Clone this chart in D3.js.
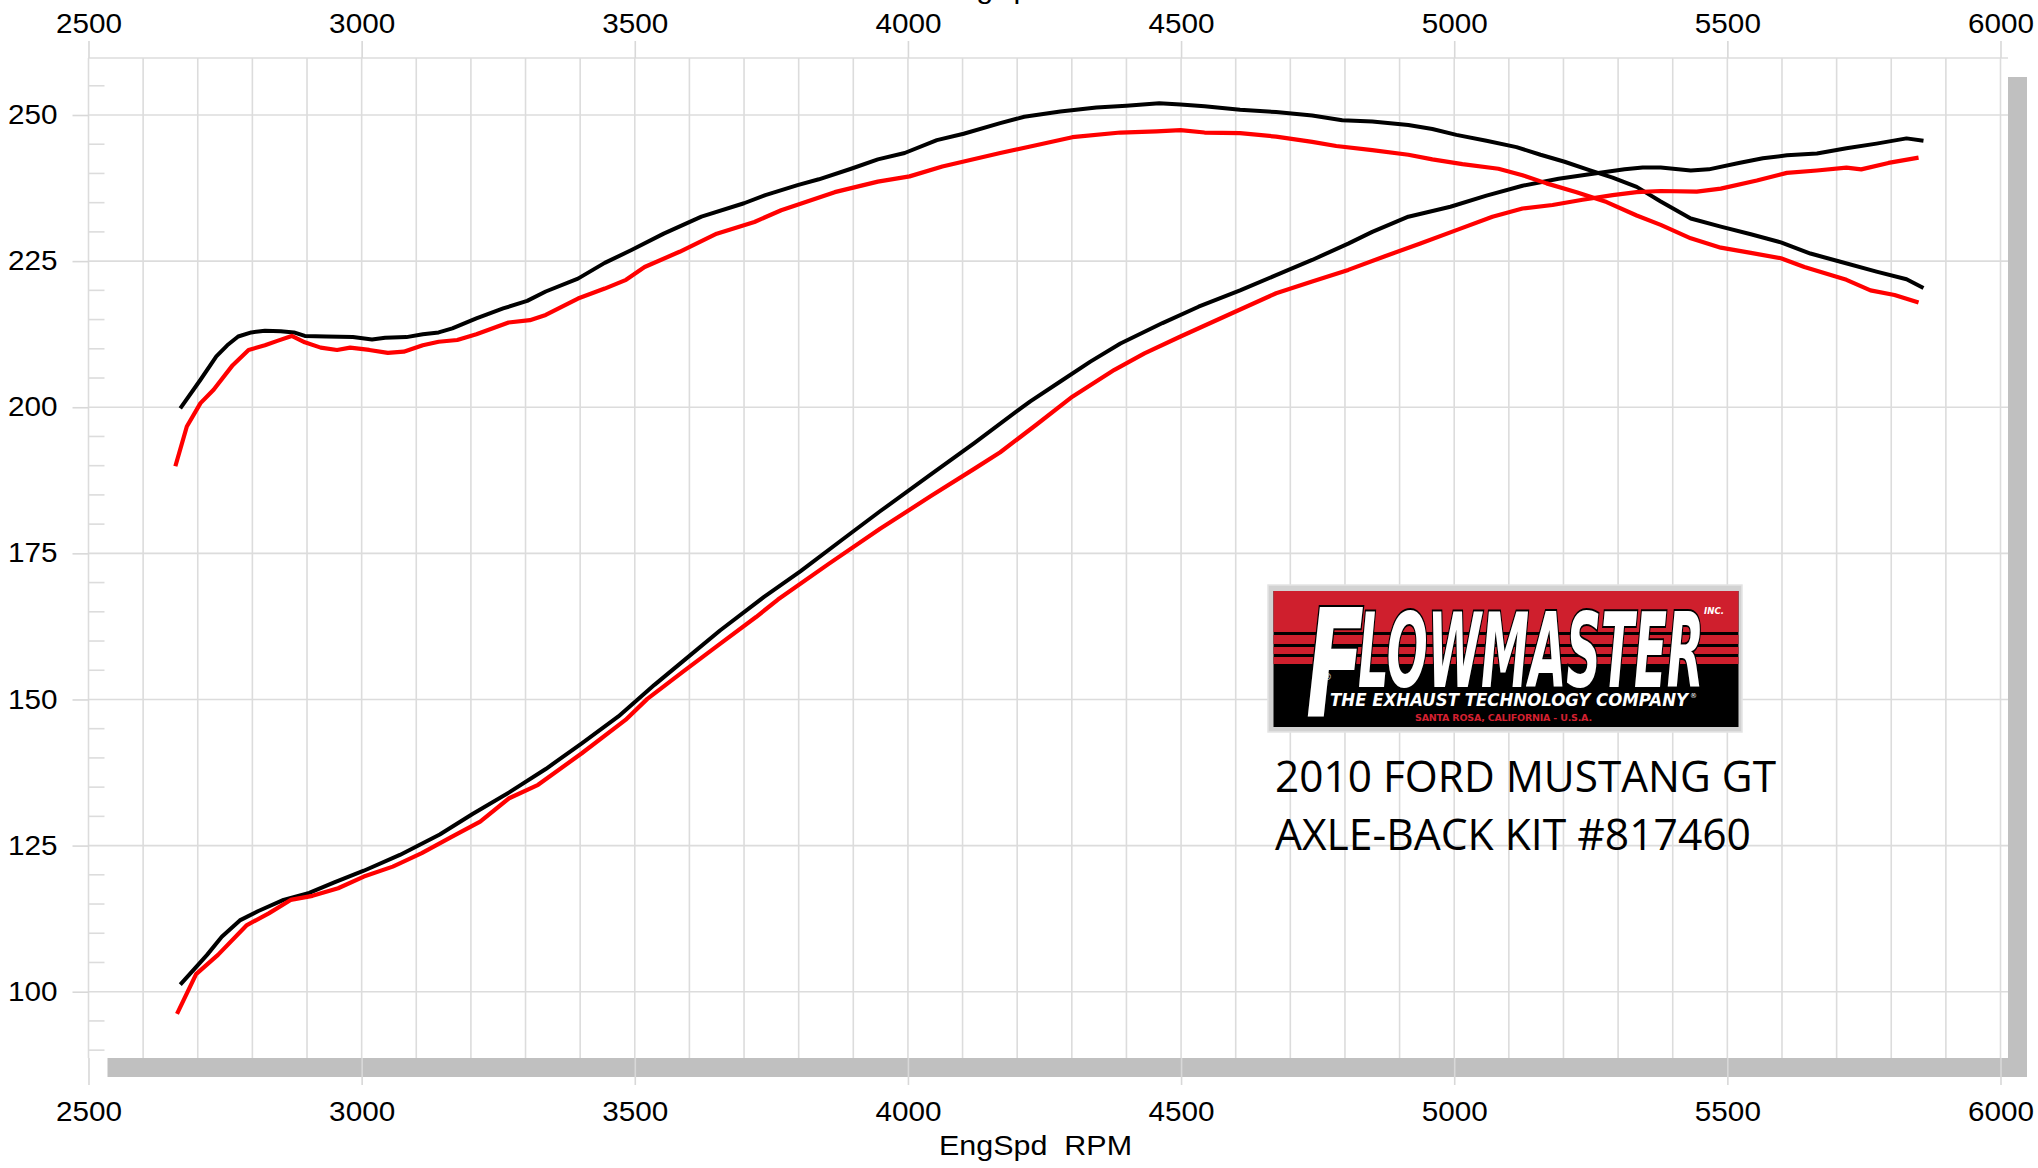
<!DOCTYPE html>
<html>
<head>
<meta charset="UTF-8">
<title>2010 Ford Mustang GT - Axle-Back Kit #817460</title>
<script src="https://cdn.jsdelivr.net/npm/d3@7/dist/d3.min.js"></script>
<style>
    body { margin: 0; background: #fff; }
    svg { display: block; }
    .axis text { font-family: "Liberation Sans", Arial, sans-serif; font-size: 27px; fill: #000; }
    .axis line { stroke: #d8d8d8; stroke-width: 1.6; }
    .grid line { stroke: #dcdcdc; stroke-width: 1.6; }
</style>
</head>
<body>
<svg id="chart" width="2038" height="1168"></svg>
<script>

    // Dyno curves. Upper pair = torque, lower pair = power.
    // black = with the axle-back kit, red = stock
    var tqKitRpm = [2668, 2705, 2734, 2754, 2774, 2798, 2823, 2852, 2876, 2896, 2935, 2984, 3019, 3043, 3082, 3112, 3141, 3166, 3210, 3259, 3303, 3337, 3396, 3445, 3494, 3553, 3622, 3700, 3739, 3798, 3837, 3896, 3945, 3994, 4053, 4102, 4169, 4213, 4279, 4345, 4400, 4460, 4499, 4543, 4608, 4674, 4740, 4795, 4850, 4916, 4960, 5004, 5059, 5114, 5158, 5202, 5246, 5290, 5334, 5378, 5433, 5488, 5543, 5598, 5652, 5707, 5773, 5828, 5859];
    var tqKit = [199.8, 204.7, 208.7, 210.6, 212.1, 212.8, 213.1, 213.0, 212.8, 212.2, 212.1, 212.0, 211.6, 211.9, 212.0, 212.5, 212.8, 213.5, 215.2, 216.9, 218.2, 219.8, 222.0, 224.7, 226.9, 229.7, 232.6, 234.9, 236.3, 238.0, 239.0, 240.8, 242.4, 243.5, 245.7, 246.8, 248.6, 249.7, 250.6, 251.3, 251.6, 252.0, 251.8, 251.5, 250.9, 250.5, 249.9, 249.1, 248.9, 248.3, 247.6, 246.6, 245.6, 244.5, 243.2, 242.0, 240.6, 239.3, 237.7, 235.2, 232.3, 230.9, 229.6, 228.2, 226.3, 224.9, 223.2, 221.9, 220.4];

    var tqStockRpm = [2659, 2680, 2705, 2729, 2764, 2793, 2823, 2847, 2872, 2896, 2925, 2955, 2979, 3014, 3048, 3077, 3112, 3141, 3175, 3210, 3269, 3308, 3337, 3396, 3445, 3484, 3518, 3582, 3650, 3719, 3768, 3866, 3945, 4003, 4063, 4169, 4224, 4301, 4389, 4455, 4499, 4543, 4608, 4674, 4740, 4784, 4850, 4916, 4960, 5015, 5081, 5125, 5169, 5224, 5279, 5334, 5378, 5433, 5488, 5543, 5598, 5641, 5718, 5762, 5806, 5850];
    var tqStock = [189.9, 196.7, 200.7, 203.0, 207.2, 209.8, 210.6, 211.4, 212.2, 211.1, 210.2, 209.8, 210.2, 209.8, 209.3, 209.5, 210.6, 211.2, 211.5, 212.5, 214.5, 214.9, 215.8, 218.6, 220.3, 221.8, 224.0, 226.6, 229.7, 231.7, 233.7, 236.8, 238.6, 239.5, 241.2, 243.5, 244.6, 246.2, 247.0, 247.2, 247.4, 247.0, 246.9, 246.3, 245.4, 244.7, 244.0, 243.2, 242.4, 241.6, 240.8, 239.7, 238.3, 236.8, 235.1, 232.8, 231.2, 228.9, 227.3, 226.4, 225.5, 224.0, 221.8, 220.0, 219.2, 217.9];

    var hpKitRpm = [2668, 2717, 2744, 2777, 2811, 2857, 2904, 2950, 3004, 3070, 3143, 3203, 3270, 3337, 3403, 3470, 3536, 3589, 3656, 3736, 3803, 3882, 3949, 4042, 4122, 4202, 4224, 4279, 4334, 4389, 4466, 4532, 4608, 4674, 4740, 4806, 4850, 4916, 4993, 5059, 5125, 5191, 5257, 5312, 5345, 5378, 5433, 5466, 5521, 5565, 5609, 5664, 5718, 5773, 5828, 5859];
    var hpKit = [101.2, 106.3, 109.4, 112.2, 113.8, 115.7, 116.9, 118.7, 120.7, 123.4, 126.9, 130.4, 134.1, 138.1, 142.5, 147.1, 152.5, 156.6, 161.8, 167.5, 171.9, 177.5, 182.2, 188.5, 193.9, 199.5, 201.0, 204.4, 207.8, 210.9, 214.4, 217.2, 220.0, 222.6, 225.2, 228.0, 230.0, 232.6, 234.3, 236.2, 237.9, 239.1, 240.0, 240.7, 241.0, 241.0, 240.5, 240.7, 241.8, 242.6, 243.1, 243.4, 244.3, 245.1, 246.0, 245.6];

    var hpStockRpm = [2662, 2697, 2737, 2790, 2830, 2870, 2910, 2957, 3004, 3057, 3110, 3163, 3217, 3270, 3323, 3403, 3483, 3523, 3589, 3656, 3722, 3762, 3855, 3949, 4042, 4122, 4169, 4235, 4301, 4378, 4433, 4499, 4598, 4674, 4740, 4806, 4872, 4938, 5004, 5070, 5125, 5180, 5235, 5290, 5334, 5378, 5444, 5488, 5554, 5609, 5664, 5718, 5745, 5795, 5850];
    var hpStock = [96.2, 103.0, 106.3, 111.4, 113.4, 115.7, 116.4, 117.7, 119.7, 121.4, 123.7, 126.4, 129.1, 133.1, 135.4, 140.8, 146.5, 150.1, 154.8, 159.5, 164.1, 167.1, 173.2, 179.2, 184.8, 189.5, 192.3, 197.0, 201.8, 206.4, 209.2, 212.1, 216.3, 219.5, 221.5, 223.5, 225.8, 228.0, 230.3, 232.6, 234.0, 234.6, 235.5, 236.3, 236.8, 237.0, 236.9, 237.4, 238.8, 240.1, 240.5, 241.0, 240.7, 241.8, 242.7];

    var rpmTicks = [2500, 3000, 3500, 4000, 4500, 5000, 5500, 6000];
    var valueTicks = [100, 125, 150, 175, 200, 225, 250];
    var axisTitle = "EngSpd  RPM";
    var noteLines = ["2010 FORD MUSTANG GT", "AXLE-BACK KIT #817460"];

    var svg = d3.select("#chart");

    // plot frame (pixels); "top" is taken by window.top, so prefix them
    var pLeft = 88.5, pTop = 58, pRight = 2008, pBottom = 1058;
    var shadow = 19;

    var x = d3.scaleLinear().domain([2500, 6000]).range([88.5, 2000.5]);
    var y = d3.scaleLinear().domain([100, 250]).range([991.7, 115]);

    // drop shadow + white plot area
    svg.append("rect")
        .attr("x", pLeft + shadow).attr("y", pTop + shadow)
        .attr("width", pRight - pLeft).attr("height", pBottom - pTop)
        .attr("fill", "#c0c0c0");
    svg.append("rect")
        .attr("x", pLeft).attr("y", pTop)
        .attr("width", pRight - pLeft).attr("height", pBottom - pTop)
        .attr("fill", "#fff");

    // grid
    var grid = svg.append("g").attr("class", "grid");
    grid.selectAll(".v").data(d3.range(2500, 6001, 100)).enter().append("line")
        .attr("x1", function (d) { return x(d); }).attr("x2", function (d) { return x(d); })
        .attr("y1", pTop).attr("y2", pBottom);
    grid.selectAll(".h").data(valueTicks).enter().append("line")
        .attr("x1", pLeft).attr("x2", pRight)
        .attr("y1", function (d) { return y(d); }).attr("y2", function (d) { return y(d); });
    grid.append("line").attr("x1", pLeft).attr("x2", pRight).attr("y1", pTop).attr("y2", pTop);

    // minor ticks on the left edge, every 5
    var minor = d3.range(90, 260, 5).filter(function (v) { return v % 25 !== 0; });
    grid.selectAll(".m").data(minor).enter().append("line")
        .attr("x1", pLeft).attr("x2", pLeft + 16)
        .attr("y1", function (d) { return y(d); }).attr("y2", function (d) { return y(d); });

    // axes
    var fmt = d3.format("d");
    svg.append("g").attr("class", "axis")
        .attr("transform", "translate(0," + pTop + ")")
        .call(d3.axisTop(x).tickValues(rpmTicks).tickSize(17).tickPadding(8).tickFormat(fmt));
    svg.append("g").attr("class", "axis")
        .attr("transform", "translate(0," + pBottom + ")")
        .call(d3.axisBottom(x).tickValues(rpmTicks).tickSize(27).tickPadding(17).tickFormat(fmt));
    svg.append("g").attr("class", "axis")
        .attr("transform", "translate(" + pLeft + ",0)")
        .call(d3.axisLeft(y).tickValues(valueTicks).tickSize(16).tickPadding(15).tickFormat(fmt));
    svg.selectAll(".axis .domain").remove();

    // the sheet's numbers are a bit wider than Arial
    svg.selectAll(".axis text").each(function () {
        var w = this.getComputedTextLength();
        d3.select(this).attr("textLength", w * 1.1).attr("lengthAdjust", "spacingAndGlyphs");
    });

    // axis titles (the top one is cut off by the page edge)
    [-2, 1155].forEach(function (by) {
        svg.append("text")
            .attr("x", 939).attr("y", by)
            .attr("textLength", 193).attr("lengthAdjust", "spacingAndGlyphs")
            .style("white-space", "pre")
            .style("font-family", "Liberation Sans, Arial, sans-serif")
            .style("font-size", "28px")
            .text(axisTitle);
    });

    // curves
    function curve(rpm, vals, color, w) {
        var pts = rpm.map(function (r, i) { return [r, vals[i]]; });
        svg.append("path")
            .datum(pts)
            .attr("fill", "none")
            .attr("stroke", color)
            .attr("stroke-width", w)
            .attr("stroke-linejoin", "round")
            .attr("d", d3.line().x(function (d) { return x(d[0]); }).y(function (d) { return y(d[1]); }));
    }
    curve(tqKitRpm, tqKit, "#000", 4);
    curve(hpKitRpm, hpKit, "#000", 4);
    curve(tqStockRpm, tqStock, "#f00", 4.2);
    curve(hpStockRpm, hpStock, "#f00", 4.2);

    // Flowmaster badge
    var logo = svg.append("g");
    logo.append("rect").attr("x", 1268).attr("y", 585).attr("width", 474).attr("height", 147)
        .attr("fill", "#d2d2d2").attr("stroke", "#e4e4e4").attr("stroke-width", 1.5);
    logo.append("rect").attr("x", 1273.5).attr("y", 591).attr("width", 465).attr("height", 136)
        .attr("fill", "#000");
    var red = "#cf1f2d";
    [[591, 41], [635, 9], [647, 7], [657, 7]].forEach(function (b) {
        logo.append("rect").attr("x", 1273.5).attr("y", b[0]).attr("width", 465).attr("height", b[1])
            .attr("fill", red);
    });

    var brandFont = "DejaVu Sans, Liberation Sans, sans-serif";
    logo.append("text")
        .attr("x", 1306).attr("y", 716)
        .attr("textLength", 58).attr("lengthAdjust", "spacingAndGlyphs")
        .style("font-family", brandFont).style("font-weight", "bold").style("font-style", "italic")
        .style("font-stretch", "condensed")
        .style("font-size", "150px")
        .attr("fill", "#fff").attr("stroke", "#000").attr("stroke-width", 4).attr("paint-order", "stroke")
        .text("F");
    logo.append("text")
        .attr("x", 1358).attr("y", 687)
        .attr("textLength", 346).attr("lengthAdjust", "spacingAndGlyphs")
        .style("font-family", brandFont).style("font-weight", "bold").style("font-style", "italic")
        .style("font-stretch", "condensed")
        .style("font-size", "103px")
        .attr("fill", "#fff").attr("stroke", "#000").attr("stroke-width", 4).attr("paint-order", "stroke")
        .text("LOWMASTER");
    logo.append("text")
        .attr("x", 1704).attr("y", 614)
        .attr("textLength", 20).attr("lengthAdjust", "spacingAndGlyphs")
        .style("font-family", brandFont).style("font-weight", "bold").style("font-style", "italic")
        .style("font-size", "8px").attr("fill", "#fff")
        .text("INC.");
    logo.append("text")
        .attr("x", 1323).attr("y", 680)
        .style("font-family", brandFont).style("font-size", "9px").attr("fill", "#fff")
        .text("®");
    logo.append("text")
        .attr("x", 1330).attr("y", 706)
        .attr("textLength", 358).attr("lengthAdjust", "spacingAndGlyphs")
        .style("font-family", brandFont).style("font-weight", "bold").style("font-style", "italic")
        .style("font-size", "18px").attr("fill", "#fff")
        .text("THE EXHAUST TECHNOLOGY COMPANY");
    logo.append("text")
        .attr("x", 1690).attr("y", 698)
        .style("font-family", brandFont).style("font-size", "7px").attr("fill", "#fff")
        .text("®");
    logo.append("text")
        .attr("x", 1415).attr("y", 721)
        .attr("textLength", 177).attr("lengthAdjust", "spacing")
        .style("font-family", brandFont).style("font-weight", "bold")
        .style("font-size", "9.5px").attr("fill", "#d42030")
        .text("SANTA ROSA, CALIFORNIA - U.S.A.");

    // vehicle note under the badge
    var noteWidths = [501, 476];
    noteLines.forEach(function (t, i) {
        svg.append("text")
            .attr("x", 1275).attr("y", 792 + i * 58)
            .attr("textLength", noteWidths[i]).attr("lengthAdjust", "spacingAndGlyphs")
            .style("font-family", "Open Sans, Noto Sans, sans-serif")
            .style("font-size", "44px")
            .attr("fill", "#000")
            .text(t);
    });

</script>
</body>
</html>
